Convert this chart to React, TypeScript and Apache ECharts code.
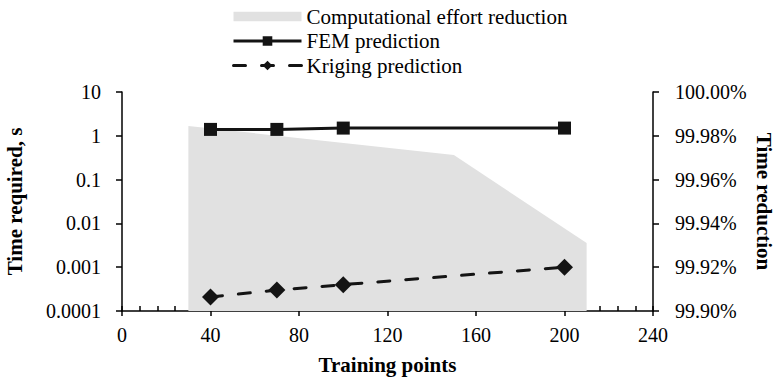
import React, { useEffect, useRef } from "react";
import * as echarts from "echarts";

const areaX = [30, 150, 210];
const areaReduction = [99.9845, 99.9712, 99.9311];

const trainingPoints = [40, 70, 100, 200];
const femTime = [1.4, 1.4, 1.5, 1.5];
const krigingTime = [0.00021, 0.0003, 0.0004, 0.001];

const xTicks = { min: 0, max: 240, interval: 40 };
const leftTicks = { min: 0.0001, max: 10 };
const rightTicks = { min: 99.9, max: 100, interval: 0.02 };

const FONT = "'Liberation Serif', 'Times New Roman', serif";
const INK = "#141414";

export default function App() {
  const ref = useRef<HTMLDivElement>(null);
  useEffect(() => {
    if (!ref.current) return;
    const chart = echarts.init(ref.current, undefined, { renderer: "svg" });
    const labelStyle = { color: "#000", fontFamily: FONT, fontSize: 20 };
    const nameStyle = { color: "#000", fontFamily: FONT, fontSize: 21, fontWeight: "bold" as const };
    chart.setOption({
      animation: false,
      textStyle: { fontFamily: FONT },
      legend: {
        orient: "vertical",
        left: 227,
        top: 1,
        itemWidth: 68,
        itemHeight: 12,
        itemGap: 3.5,
        textStyle: { color: "#000", fontFamily: FONT, fontSize: 21 },
        data: [
          {
            name: "Computational effort reduction",
            icon: "path://M0,0h66v9h-66z",
            itemStyle: { color: "#e1e1e1" },
          },
          { name: "FEM prediction", lineStyle: { width: 3 } },
          { name: "Kriging prediction", lineStyle: { width: 3 } },
        ],
      },
      grid: { left: 122, right: 124, top: 92, bottom: 69, containLabel: false, outerBoundsMode: "none" },
      xAxis: [
        {
          type: "value",
          min: xTicks.min,
          max: xTicks.max,
          interval: xTicks.interval,
          name: "Training points",
          nameLocation: "middle",
          nameGap: 43,
          nameTextStyle: nameStyle,
          axisLine: { show: true, onZero: false, lineStyle: { color: "#000", width: 1.5 } },
          axisTick: { show: true, inside: true, length: 5, lineStyle: { color: "#000", width: 1.5 } },
          minorTick: { show: true, splitNumber: 5, length: 5, lineStyle: { color: "#000", width: 1.5 } },
          axisLabel: { ...labelStyle, margin: 14 },
          splitLine: { show: false },
        },
        {
          type: "value",
          position: "bottom",
          min: xTicks.min,
          max: xTicks.max,
          interval: xTicks.interval,
          axisLine: { show: false, onZero: false },
          axisTick: { show: true, inside: false, length: 5, lineStyle: { color: "#000", width: 1.5 } },
          axisLabel: { show: false },
          splitLine: { show: false },
        },
      ],
      yAxis: [
        {
          type: "log",
          logBase: 10,
          min: leftTicks.min,
          max: leftTicks.max,
          name: "Time required, s",
          nameLocation: "middle",
          nameGap: 97,
          nameMoveOverlap: false,
          nameTextStyle: nameStyle,
          axisLine: { show: true, onZero: false, lineStyle: { color: "#000", width: 1.5 } },
          axisTick: { show: true, inside: false, length: 6, lineStyle: { color: "#000", width: 1.5 } },
          axisLabel: {
            ...labelStyle,
            margin: 21,
            formatter: (v: number) => String(Number(v.toPrecision(2))),
          },
          splitLine: { show: false },
        },
        {
          type: "value",
          position: "right",
          min: rightTicks.min,
          max: rightTicks.max,
          interval: rightTicks.interval,
          name: "Time reduction",
          nameLocation: "middle",
          nameRotate: -90,
          nameGap: 100,
          nameMoveOverlap: false,
          nameTextStyle: nameStyle,
          axisLine: { show: true, onZero: false, lineStyle: { color: "#000", width: 1.5 } },
          axisTick: { show: true, inside: false, length: 6, lineStyle: { color: "#000", width: 1.5 } },
          axisLabel: {
            ...labelStyle,
            margin: 22,
            formatter: (v: number) => v.toFixed(2) + "%",
          },
          splitLine: { show: false },
        },
      ],
      series: [
        {
          name: "Computational effort reduction",
          type: "line",
          xAxisIndex: 0,
          yAxisIndex: 1,
          data: areaX.map((x, i) => [x, areaReduction[i]]),
          showSymbol: false,
          symbol: "none",
          lineStyle: { width: 0, color: "#e1e1e1" },
          itemStyle: { color: "#e1e1e1" },
          areaStyle: { color: "#e1e1e1", opacity: 1, origin: "start" },
          z: 1,
        },
        {
          name: "FEM prediction",
          type: "line",
          xAxisIndex: 0,
          yAxisIndex: 0,
          data: trainingPoints.map((x, i) => [x, femTime[i]]),
          symbol: "rect",
          symbolSize: 13,
          itemStyle: { color: INK },
          lineStyle: { color: INK, width: 3 },
          z: 3,
        },
        {
          name: "Kriging prediction",
          type: "line",
          xAxisIndex: 0,
          yAxisIndex: 0,
          data: trainingPoints.map((x, i) => [x, krigingTime[i]]),
          symbol: "diamond",
          symbolSize: 17,
          itemStyle: { color: INK },
          lineStyle: { color: INK, width: 3, type: [12, 16], cap: "round" },
          z: 3,
        },
      ],
    });
    return () => chart.dispose();
  }, []);
  return (
    <div
      ref={ref}
      style={{ position: "fixed", left: 0, top: 0, width: 777, height: 380, background: "#fff" }}
    />
  );
}
